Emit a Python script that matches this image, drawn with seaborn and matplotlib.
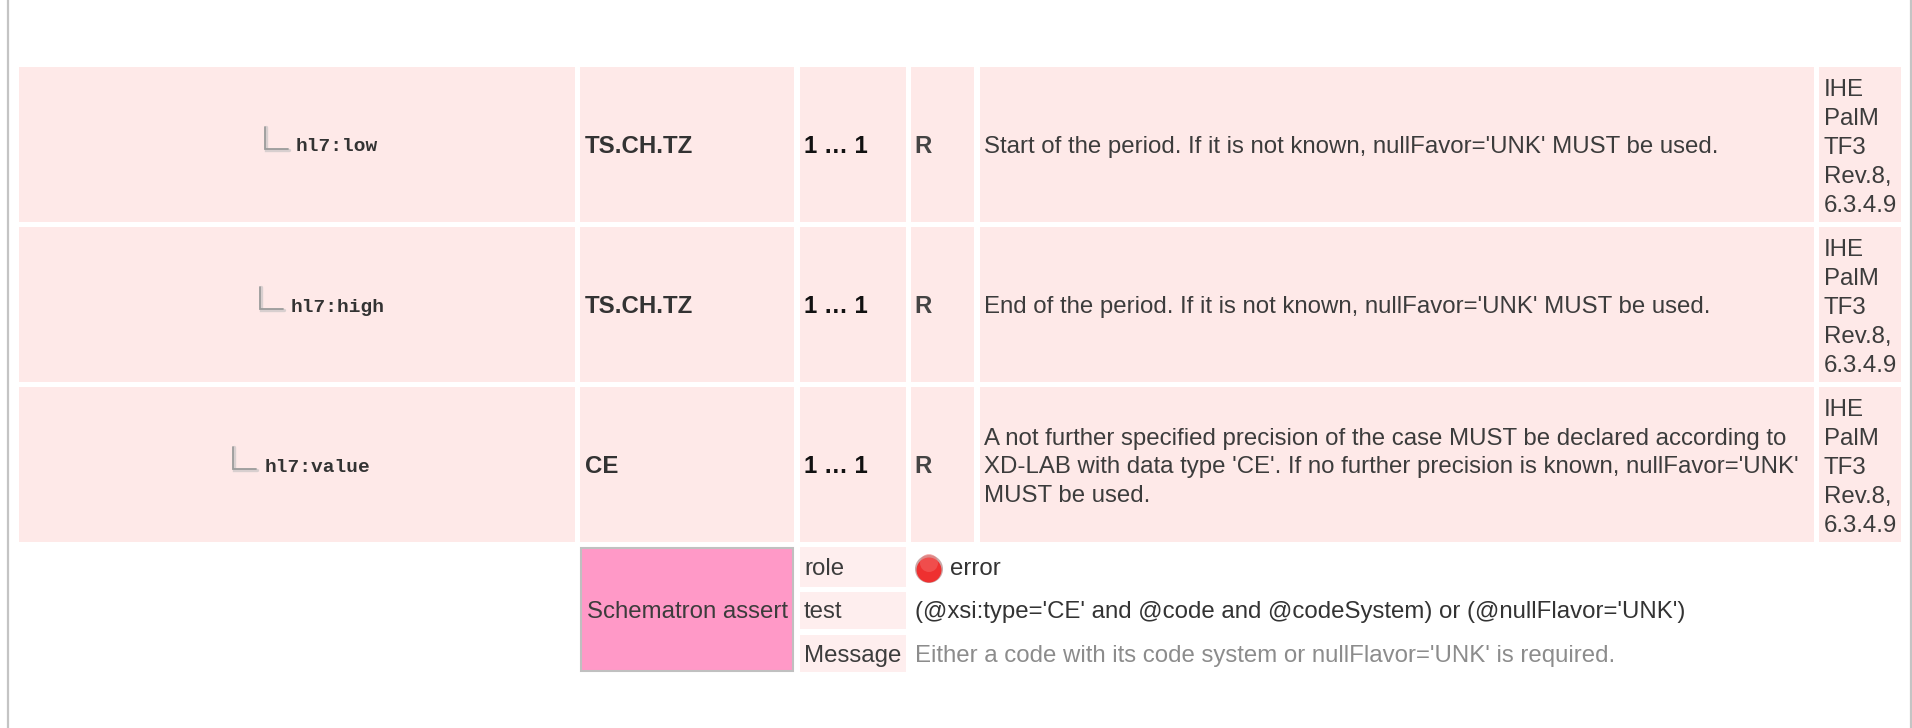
import matplotlib
matplotlib.use("Agg")
import matplotlib.pyplot as plt
from matplotlib.patches import Rectangle, Circle
import seaborn as sns

# table content
elements = ["hl7:low", "hl7:high", "hl7:value"]
datatypes = ["TS.CH.TZ", "TS.CH.TZ", "CE"]
cards = ["1 … 1", "1 … 1", "1 … 1"]
conf = ["R", "R", "R"]
descriptions = [
    ["Start of the period. If it is not known, nullFavor='UNK' MUST be used."],
    ["End of the period. If it is not known, nullFavor='UNK' MUST be used."],
    ["A not further specified precision of the case MUST be declared according to",
     "XD-LAB with data type 'CE'. If no further precision is known, nullFavor='UNK'",
     "MUST be used."],
]
source = ["IHE", "PalM", "TF3", "Rev.8,", "6.3.4.9"]
assert_title = "Schematron assert"
assert_labels = ["role", "test", "Message"]
assert_values = ["error",
                 "(@xsi:type='CE' and @code and @codeSystem) or (@nullFlavor='UNK')",
                 "Either a code with its code system or nullFlavor='UNK' is required."]

# layout in pixels
row_tops = [67, 227, 387]
row_h = 155
col_edges = [(19, 575), (580, 794), (800, 906), (911, 974), (980, 1814), (1819, 1901)]
corner_x = [265, 260, 233]
code_x = [296, 291, 265]
code_base = [151, 312, 472]
assert_rows = [(547, 587), (592, 629), (635, 672)]
assert_base = [575, 618, 662]

ROW = "#fee9e8"
LIGHT = "#feeeee"
PINK = "#ff99c7"
FS = 17.3

sns.set_theme(style="white")
plt.rcParams['font.family'] = ['Liberation Sans', 'DejaVu Sans']

fig = plt.figure(figsize=(19.12, 7.28), dpi=100)
ax = fig.add_axes([0, 0, 1, 1])
ax.set_xlim(0, 1912)
ax.set_ylim(728, 0)
ax.axis("off")

# page rules left and right
ax.plot([8, 8], [0, 728], color="#c4c4c4", lw=1.6)
ax.plot([1911, 1911], [0, 728], color="#c4c4c4", lw=1.6)

for i, top in enumerate(row_tops):
    for x0, x1 in col_edges:
        ax.add_patch(Rectangle((x0, top), x1 - x0, row_h, fc=ROW, ec="none"))
    base = top + 86

    # tree corner, soft shadow under a darker line
    cx = corner_x[i]
    cy = top + 82
    ax.plot([cx + 1, cx + 1, cx + 24], [cy - 22, cy + 1, cy + 1], color="#d8cfcf", lw=2.4, solid_joinstyle="miter")
    ax.plot([cx, cx, cx + 23], [cy - 22, cy, cy], color="#9c9c9c", lw=1.3, solid_joinstyle="miter")
    ax.text(code_x[i], code_base[i], elements[i], family="Liberation Mono", weight="bold",
            fontsize=14, color="#333333", va="baseline")

    ax.text(585, base, datatypes[i], weight="bold", fontsize=FS, color="#333333", va="baseline")
    ax.text(804, base, cards[i], weight="bold", fontsize=FS, color="#111111", va="baseline")
    ax.text(914, base, conf[i], weight="bold", fontsize=FS, color="#444444", va="baseline")

    lines = descriptions[i]
    if len(lines) == 1:
        ax.text(984, base, lines[0], fontsize=FS, color="#3c3c3c", va="baseline")
    else:
        for j, line in enumerate(lines):
            ax.text(984, top + 58 + j * 28.5, line, fontsize=FS, color="#3c3c3c", va="baseline")

    for j, line in enumerate(source):
        ax.text(1824, top + 29 + j * 29, line, fontsize=FS, color="#3c3c3c", va="baseline")

# schematron block
ax.add_patch(Rectangle((581, 548), 212, 123, fc=PINK, ec="#c0c0c0", lw=1.5))
ax.text(688, 618, assert_title, fontsize=FS, color="#3c3c3c", ha="center", va="baseline")
for (y0, y1), base, label, value in zip(assert_rows, assert_base, assert_labels, assert_values):
    ax.add_patch(Rectangle((800, y0), 106, y1 - y0, fc=LIGHT, ec="none"))
    ax.text(804, base, label, fontsize=FS, color="#3c3c3c", va="baseline")
    color = "#8c8c8c" if label == "Message" else "#333333"
    x = 950 if label == "role" else 915
    ax.text(x, base, value, fontsize=FS, color=color, va="baseline")

# red status ball
ax.add_patch(Circle((929, 569), 14, fc="#c9a8a8", ec="none"))
ax.add_patch(Circle((929, 570), 12.5, fc="#ee3030", ec="none"))
ax.add_patch(Circle((929, 563), 9, fc="#f26a68", ec="none", alpha=0.5))

fig.savefig("out.png", dpi=100, facecolor="white")
